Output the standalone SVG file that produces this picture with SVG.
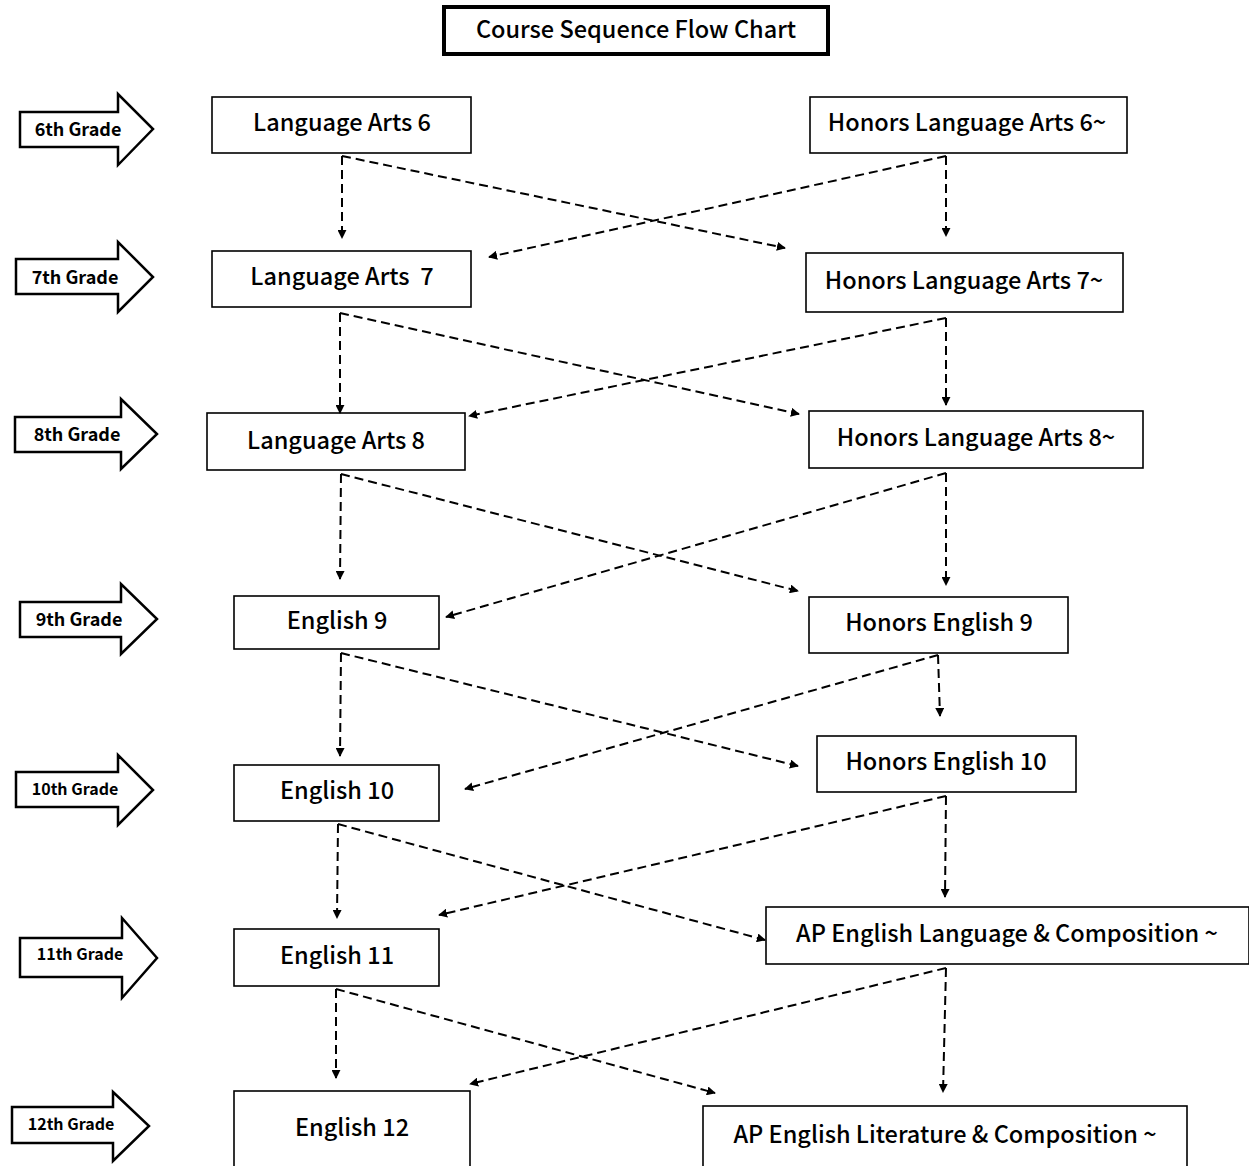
<svg xmlns="http://www.w3.org/2000/svg" width="1249" height="1166" viewBox="0 0 1249 1166">
<defs>
<style>
.box{fill:#fff;stroke:#000;stroke-width:1.6}
.t{font-family:"Noto Sans CJK SC","Noto Sans",sans-serif;font-weight:500;font-size:23.5px;text-anchor:middle;fill:#000}
.g{font-family:"Noto Sans CJK SC","Noto Sans",sans-serif;font-weight:700;font-size:18px;text-anchor:middle;fill:#000}
.gs{font-size:16px}
.ga{fill:#fff;stroke:#000;stroke-width:2.5;stroke-linejoin:miter}
.c{fill:none;stroke:#000;stroke-width:2;stroke-dasharray:9 5}
</style>
<marker id="ah" viewBox="0 0 10 10" refX="9" refY="5" markerWidth="9" markerHeight="9" markerUnits="userSpaceOnUse" orient="auto">
<path d="M0,0 L10,5 L0,10 Z" fill="#000"/>
</marker>
</defs>
<rect width="1249" height="1166" fill="#fff"/>

<g id="title">
<rect x="444" y="7" width="384" height="47" fill="#fff" stroke="#000" stroke-width="4"/>
<text class="t" x="636" y="38">Course Sequence Flow Chart</text>
</g>

<g id="grade6"><path class="ga" d="M20,112 H118 V94 L153,129 L118,165 V147 H20 Z"/><text class="g" x="78" y="136">6th Grade</text></g>
<g id="grade7"><path class="ga" d="M16,259 H118 V242 L153,277 L118,312 V294 H16 Z"/><text class="g" x="75" y="284">7th Grade</text></g>
<g id="grade8"><path class="ga" d="M15,417 H121 V399 L157,434 L121,469 V452 H15 Z"/><text class="g" x="77" y="441">8th Grade</text></g>
<g id="grade9"><path class="ga" d="M20,602 H121 V584 L157,619 L121,654 V637 H20 Z"/><text class="g" x="79" y="626">9th Grade</text></g>
<g id="grade10"><path class="ga" d="M16,772 H118 V755 L153,790 L118,825 V807 H16 Z"/><text class="g gs" x="75" y="795">10th Grade</text></g>
<g id="grade11"><path class="ga" d="M20,938 H122 V918 L157,958 L122,998 V977 H20 Z"/><text class="g gs" x="80" y="960">11th Grade</text></g>
<g id="grade12"><path class="ga" d="M12,1107 H113 V1092 L149,1126 L113,1161 V1143 H12 Z"/><text class="g gs" x="71" y="1130">12th Grade</text></g>

<g id="la6"><rect class="box" x="212" y="97" width="259" height="56"/><text class="t" x="342" y="131">Language Arts 6</text></g>
<g id="hla6"><rect class="box" x="810" y="97" width="317" height="56" stroke-width="2.2"/><text class="t" x="967" y="131">Honors Language Arts 6~</text></g>
<g id="la7"><rect class="box" x="212" y="251" width="259" height="56"/><text class="t" x="342" y="285" xml:space="preserve">Language Arts  7</text></g>
<g id="hla7"><rect class="box" x="806" y="253" width="317" height="59"/><text class="t" x="964" y="289">Honors Language Arts 7~</text></g>
<g id="la8"><rect class="box" x="207" y="413" width="258" height="57"/><text class="t" x="336" y="449">Language Arts 8</text></g>
<g id="hla8"><rect class="box" x="809" y="411" width="334" height="57"/><text class="t" x="976" y="446">Honors Language Arts 8~</text></g>
<g id="e9"><rect class="box" x="234" y="596" width="205" height="53"/><text class="t" x="337" y="629">English 9</text></g>
<g id="he9"><rect class="box" x="809" y="597" width="259" height="56"/><text class="t" x="939" y="631">Honors English 9</text></g>
<g id="e10"><rect class="box" x="234" y="765" width="205" height="56"/><text class="t" x="337" y="799">English 10</text></g>
<g id="he10"><rect class="box" x="817" y="736" width="259" height="56"/><text class="t" x="946" y="770">Honors English 10</text></g>
<g id="e11"><rect class="box" x="234" y="929" width="205" height="57"/><text class="t" x="337" y="964">English 11</text></g>
<g id="aplang"><rect class="box" x="766" y="907" width="483" height="57"/><text class="t" x="1007" y="942">AP English Language &amp; Composition ~</text></g>
<g id="e12"><rect class="box" x="234" y="1091" width="236" height="90"/><text class="t" x="352" y="1136">English 12</text></g>
<g id="aplit"><rect class="box" x="703" y="1106" width="484" height="80"/><text class="t" x="945" y="1143">AP English Literature &amp; Composition ~</text></g>

<g id="connectors">
<path class="c" marker-end="url(#ah)" d="M342,156 L342,238"/>
<path class="c" marker-end="url(#ah)" d="M342,156 L785,248"/>
<path class="c" marker-end="url(#ah)" d="M946,156 L946,236"/>
<path class="c" marker-end="url(#ah)" d="M946,156 L489,257"/>

<path class="c" marker-end="url(#ah)" d="M340,313 L340,413"/>
<path class="c" marker-end="url(#ah)" d="M340,313 L799,414"/>
<path class="c" marker-end="url(#ah)" d="M946,318 L946,405"/>
<path class="c" marker-end="url(#ah)" d="M946,318 L469,416"/>

<path class="c" marker-end="url(#ah)" d="M341,474 L340,579"/>
<path class="c" marker-end="url(#ah)" d="M341,474 L798,591"/>
<path class="c" marker-end="url(#ah)" d="M946,473 L946,585"/>
<path class="c" marker-end="url(#ah)" d="M946,473 L446,617"/>

<path class="c" marker-end="url(#ah)" d="M341,653 L340,756"/>
<path class="c" marker-end="url(#ah)" d="M341,653 L798,766"/>
<path class="c" marker-end="url(#ah)" d="M938,655 L940,716"/>
<path class="c" marker-end="url(#ah)" d="M938,655 L465,789"/>

<path class="c" marker-end="url(#ah)" d="M338,824 L337,918"/>
<path class="c" marker-end="url(#ah)" d="M338,824 L765,940"/>
<path class="c" marker-end="url(#ah)" d="M946,796 L945,897"/>
<path class="c" marker-end="url(#ah)" d="M946,796 L439,915"/>

<path class="c" marker-end="url(#ah)" d="M336,989 L336,1078"/>
<path class="c" marker-end="url(#ah)" d="M336,989 L715,1093"/>
<path class="c" marker-end="url(#ah)" d="M946,968 L943,1092"/>
<path class="c" marker-end="url(#ah)" d="M946,968 L470,1084"/>
</g>
</svg>
